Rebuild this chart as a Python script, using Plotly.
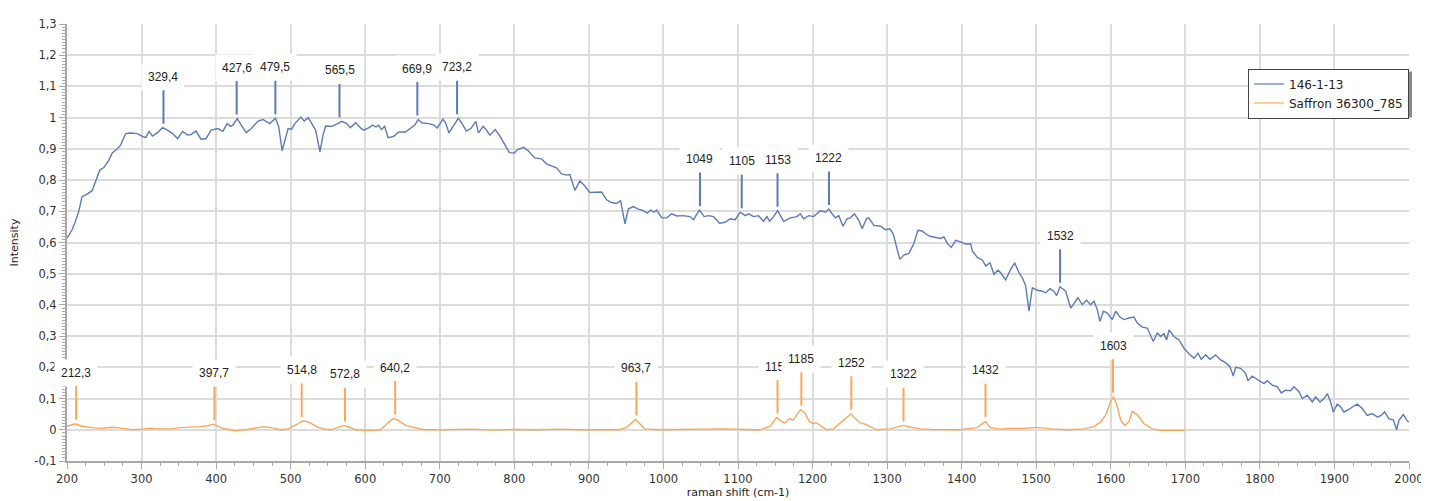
import numpy as np
import plotly.graph_objects as go

# ---------------- data ----------------
blue_name = "146-1-13"
blue_x = [200, 206.7, 211.2, 215.7, 220.2, 227.0, 233.7, 238.2, 244.0, 249.4, 256.2, 260.7, 266.5, 271.9,
          278.7, 285.4, 294.4, 301.1, 305.6, 310.1, 314.6, 321.3, 328.1, 334.8, 341.6, 348.3, 355.1, 361.8,
          366.3, 373.0, 379.8, 386.5, 393.3, 402.2, 409.0, 414.8, 419.3, 422.5, 428.3, 433.7, 440.4, 447.2,
          456.2, 462.9, 467.4, 471.9, 479.6, 484.0, 488.5, 493.0, 496.6, 501.1, 505.6, 513.7, 518.2, 523.6,
          529.0, 533.5, 539.3, 543.8, 547.0, 555.1, 561.8, 568.5, 575.3, 579.8, 587.4, 593.3, 597.8, 604.5,
          609.9, 614.4, 618.0, 621.6, 626.1, 630.6, 638.2, 644.9, 653.9, 660.7, 666.5, 671.0, 676.4, 685.4,
          692.1, 696.6, 704.3, 707.9, 712.4, 717.8, 724.9, 730.3, 735.7, 741.6, 748.3, 751.9, 758.2, 762.7,
          767.2, 774.4, 779.8, 786.5, 793.3, 800.0, 804.5,
          812.6, 818.5, 827.4, 836.4, 843.1, 849.8, 856.5, 863.3, 870.0, 874.5, 881.2, 887.9, 894.6, 901.3,
          908.1, 917.0, 923.7, 930.5, 937.2, 942.6, 948.4, 952.9, 959.6, 966.3, 973.0, 978.4, 982.9, 987.4,
          990.9, 997.7, 1004.4, 1011.1, 1017.8, 1026.8, 1035.8, 1040.2, 1048.3, 1054.6, 1060.4, 1067.1,
          1075.2, 1082.8, 1089.5, 1096.2, 1103.0, 1109.7, 1114.2, 1120.9, 1127.6, 1134.3, 1138.8, 1142.4,
          1147.8, 1153.1, 1161.2, 1170.2, 1179.1, 1183.6, 1188.1, 1194.8, 1201.5, 1206.0, 1210.5, 1217.2,
          1221.7, 1226.2, 1230.6, 1235.1, 1240.9, 1246.3, 1250.8, 1256.2, 1262.0, 1266.5, 1272.3, 1275.4,
          1282.2, 1291.1, 1297.8, 1303.7, 1308.2, 1312.6, 1317.1, 1322.5, 1329.2, 1335.9, 1341.3, 1347.1,
          1351.6, 1357.4, 1365.0, 1371.8, 1376.2, 1380.7, 1386.1, 1391.9, 1398.7, 1405.4, 1412.1,
          1414.3, 1421.0, 1427.7, 1432.2, 1438.0, 1443.4, 1448.7, 1452.3, 1459.0, 1465.7, 1471.1, 1476.9,
          1481.4, 1485.8, 1490.3, 1494.8, 1501.5, 1508.2, 1512.7, 1518.5, 1523.8, 1527.4, 1531.9, 1539.5,
          1546.2, 1550.6, 1556.0, 1561.8, 1567.6, 1573.0, 1577.5, 1581.9, 1585.5, 1590.0, 1595.4, 1602.1,
          1606.5, 1612.3, 1617.7, 1624.4, 1631.1, 1635.6, 1642.3, 1649.0, 1657.0, 1662.4, 1666.9, 1671.3,
          1674.9, 1678.1, 1684.8, 1691.5, 1698.2, 1706.2, 1711.6, 1716.9, 1721.4, 1727.2, 1733.0, 1740.6,
          1747.3, 1754.0, 1759.9, 1764.3, 1767.5, 1774.2, 1780.9, 1784.0, 1789.8, 1796.5, 1801.0, 1805.5,
          1809.9, 1816.6, 1823.3, 1828.7, 1834.5, 1841.2, 1845.7, 1852.4, 1856.9, 1863.6, 1870.3, 1874.8,
          1880.6, 1886.0, 1890.4, 1894.9, 1898.4, 1903.8, 1908.3, 1912.7, 1919.5, 1923.9, 1930.6, 1937.3,
          1944.0, 1950.8, 1957.5, 1962.8, 1967.3, 1973.1, 1978.9, 1983.4, 1986.5, 1992.3, 1997.7, 2000.0]
blue_y = [0.614, 0.640, 0.667, 0.699, 0.747, 0.755, 0.766, 0.795, 0.832, 0.840, 0.864, 0.887, 0.898, 0.912,
          0.949, 0.951, 0.949, 0.940, 0.936, 0.956, 0.941, 0.952, 0.968, 0.960, 0.949, 0.933, 0.956, 0.944,
          0.946, 0.957, 0.931, 0.933, 0.960, 0.965, 0.956, 0.981, 0.972, 0.976, 0.997, 0.976, 0.952, 0.965,
          0.989, 0.994, 0.988, 0.981, 0.998, 0.970, 0.894, 0.938, 0.965, 0.963, 0.981, 1.002, 0.989, 1.000,
          0.976, 0.960, 0.890, 0.949, 0.973, 0.972, 0.979, 0.988, 0.981, 0.968, 0.984, 0.968, 0.960, 0.967,
          0.976, 0.970, 0.976, 0.962, 0.972, 0.936, 0.940, 0.954, 0.954, 0.965, 0.976, 0.994, 0.983, 0.981,
          0.976, 0.967, 0.995, 0.983, 0.951, 0.972, 0.998, 0.979, 0.957, 0.965, 0.988, 0.951, 0.972, 0.960,
          0.944, 0.962, 0.944, 0.917, 0.888, 0.887, 0.898,
          0.905, 0.894, 0.871, 0.868, 0.852, 0.846, 0.839, 0.820, 0.816, 0.818, 0.767, 0.797, 0.781, 0.760,
          0.760, 0.762, 0.737, 0.728, 0.725, 0.734, 0.660, 0.707, 0.715, 0.707, 0.702, 0.694, 0.704, 0.697,
          0.704, 0.679, 0.679, 0.692, 0.685, 0.686, 0.683, 0.673, 0.704, 0.683, 0.686, 0.683,
          0.662, 0.665, 0.676, 0.673, 0.697, 0.686, 0.692, 0.683, 0.686, 0.668, 0.683, 0.668,
          0.683, 0.702, 0.668, 0.679, 0.683, 0.692, 0.676, 0.686, 0.683, 0.692, 0.702, 0.697,
          0.707, 0.692, 0.679, 0.686, 0.652, 0.676, 0.679, 0.692, 0.671, 0.644, 0.676, 0.679,
          0.655, 0.652, 0.641, 0.644, 0.628, 0.586, 0.546, 0.560, 0.565, 0.597, 0.639, 0.637,
          0.628, 0.620, 0.616, 0.613, 0.618, 0.597, 0.584, 0.607, 0.602, 0.595, 0.595,
          0.573, 0.552, 0.544, 0.525, 0.535, 0.498, 0.512, 0.503, 0.480, 0.514, 0.535, 0.503,
          0.487, 0.462, 0.380, 0.455, 0.447, 0.444, 0.439, 0.452, 0.444, 0.430, 0.458, 0.444,
          0.390, 0.404, 0.423, 0.401, 0.415, 0.401, 0.412, 0.385, 0.347, 0.380, 0.374, 0.353,
          0.380, 0.361, 0.353, 0.358, 0.361, 0.342, 0.329, 0.326, 0.283, 0.310, 0.299, 0.308,
          0.288, 0.320, 0.299, 0.288, 0.261, 0.240, 0.229, 0.245, 0.226, 0.240, 0.226, 0.240,
          0.224, 0.215, 0.202, 0.172, 0.200, 0.197, 0.181, 0.157, 0.172, 0.161, 0.154, 0.148,
          0.157, 0.143, 0.138, 0.118, 0.127, 0.125, 0.138, 0.122, 0.100, 0.111, 0.089, 0.105,
          0.089, 0.100, 0.116, 0.089, 0.057, 0.082, 0.073, 0.057, 0.065, 0.073, 0.082, 0.068,
          0.046, 0.052, 0.041, 0.046, 0.057, 0.035, 0.032, 0.000, 0.030, 0.049, 0.028, 0.025]

orange_name = "Saffron 36300_785"
orange_x = [200, 205, 211.2, 218, 227, 236, 245, 254, 260.6, 270, 280, 287.6, 300, 312, 325, 340, 352.7,
            365, 378, 388.6, 396.7, 402, 410, 418, 424.5, 435, 445, 455, 465, 475, 487.4, 497, 505, 510,
            515.6, 522.3, 529, 535.7, 544.6, 553.6, 562.5, 571.4, 578.1, 587.1, 602.7, 620.5, 629.5, 634,
            638.4, 645.1, 654, 665.2, 678.6, 700.9, 720, 745, 770, 800, 830, 860, 890, 920, 940, 950.2,
            956.9, 962.7, 968.1, 974.8, 995, 1020, 1039.8, 1060, 1084.6, 1110, 1129.4, 1142.8, 1151.8,
            1158.5, 1163, 1168.8, 1174.2, 1179.6, 1184, 1189.9, 1195.7, 1201.1, 1205.6, 1212.3, 1219,
            1228, 1239.2, 1245.9, 1251.3, 1257.1, 1263.8, 1270.5, 1277.2, 1286.2, 1304.1, 1313.1, 1322,
            1331, 1344.4, 1360, 1375.8, 1398.2, 1420.6, 1427.3, 1431.8, 1438.5, 1452, 1465, 1478.9,
            1497.8, 1505.7, 1520, 1542.2, 1564.4, 1577.8, 1586.7, 1593.3, 1600, 1603.6, 1608, 1613.3,
            1618.7, 1624.4, 1628.9, 1635.6, 1644.4, 1655.6, 1666.7, 1684.4, 1700]
orange_y = [0.011, 0.014, 0.019, 0.013, 0.009, 0.006, 0.004, 0.007, 0.008, 0.006, 0.003, 0.000, 0.002,
            0.005, 0.003, 0.003, 0.007, 0.008, 0.010, 0.013, 0.018, 0.012, 0.004, 0.000, -0.003, -0.001,
            0.002, 0.006, 0.010, 0.006, 0.000, 0.003, 0.012, 0.020, 0.028, 0.026, 0.018, 0.009, 0.003,
            0.000, 0.007, 0.014, 0.009, 0.000, -0.002, 0.000, 0.020, 0.030, 0.036, 0.029, 0.014, 0.007,
            0.000, 0.000, 0.001, 0.002, -0.001, 0.001, 0.000, 0.002, 0.000, 0.001, 0.000, 0.007, 0.020,
            0.033, 0.020, 0.003, 0.000, 0.001, 0.000, 0.002, 0.003, 0.001, 0.000, 0.011, 0.039, 0.026,
            0.022, 0.036, 0.031, 0.051, 0.064, 0.053, 0.026, 0.020, 0.022, 0.011, 0.000, 0.003, 0.026,
            0.040, 0.051, 0.037, 0.022, 0.018, 0.011, 0.000, 0.003, 0.009, 0.014, 0.009, 0.003, 0.001,
            0.000, 0.000, 0.007, 0.020, 0.027, 0.007, 0.002, 0.004, 0.004, 0.007, 0.007, 0.003, 0.000,
            0.003, 0.011, 0.026, 0.048, 0.092, 0.106, 0.081, 0.031, 0.014, 0.026, 0.059, 0.048, 0.020,
            0.003, -0.002, -0.002, -0.002]

blue_peaks = [329.4, 427.6, 479.5, 565.5, 669.9, 723.2, 1049, 1105, 1153, 1222, 1532]
orange_peaks = [212.3, 397.7, 514.8, 572.8, 640.2, 963.7, 1153, 1185, 1252, 1322, 1432, 1603]

x_ticks = list(range(200, 2001, 100))
y_ticks = [-0.1, 0, 0.1, 0.2, 0.3, 0.4, 0.5, 0.6, 0.7, 0.8, 0.9, 1.0, 1.1, 1.2, 1.3]

# ---------------- style ----------------
BLUE = "#5b7bb8"
ORANGE = "#f8a85c"
BLUE_LEG = "#9fb2d6"
ORANGE_LEG = "#fcd0a2"
GRID = "#dcdcdc"
AXIS = "#a8a8a8"
TICKFONT = dict(family="DejaVu Sans", size=11.5, color="#333333")

# figure is drawn inside the page's default 8px body margin
FIG_W, FIG_H = 1421, 493
M_L, M_R, M_T, M_B = 59, 20, 16, 40


def fmt(v):
    s = f"{v:g}"
    return s.replace(".", ",")


fig = go.Figure()
fig.add_trace(go.Scatter(x=blue_x, y=blue_y, mode="lines", line=dict(color=BLUE, width=1.4),
                         name=blue_name, showlegend=False))
fig.add_trace(go.Scatter(x=orange_x, y=orange_y, mode="lines", line=dict(color=ORANGE, width=1.4),
                         name=orange_name, showlegend=False))
# legend entries
fig.add_trace(go.Scatter(x=[None], y=[None], mode="lines", line=dict(color=BLUE_LEG, width=2),
                         name=blue_name))
fig.add_trace(go.Scatter(x=[None], y=[None], mode="lines", line=dict(color=ORANGE_LEG, width=2),
                         name=orange_name))


def peak_height(xs, ys, p):
    xs = np.asarray(xs)
    ys = np.asarray(ys)
    m = np.abs(xs - p) <= 5
    if m.any():
        return float(ys[m].max())
    return float(np.interp(p, xs, ys))


annotations = []
for xs, ys, peaks, col in [(blue_x, blue_y, blue_peaks, BLUE), (orange_x, orange_y, orange_peaks, ORANGE)]:
    for p in peaks:
        annotations.append(dict(
            x=p, y=peak_height(xs, ys, p), xref="x", yref="y",
            text=fmt(p), showarrow=True, arrowhead=0, arrowwidth=2, arrowcolor=col,
            ax=0, ay=-51, standoff=4, bgcolor="white", borderpad=6,
            font=dict(family="Liberation Sans", size=12, color="#222222"),
        ))

# legend drop shadow (layout decoration)
PLOT_W = FIG_W - M_L - M_R
PLOT_H = FIG_H - M_T - M_B
LEG_TOP = 0.898
shapes = [dict(type="rect", xref="paper", yref="paper", layer="above",
               x0=1 - 158 / PLOT_W + 3 / PLOT_W, x1=1 + 3 / PLOT_W,
               y0=LEG_TOP - 46 / PLOT_H - 3 / PLOT_H, y1=LEG_TOP - 3 / PLOT_H,
               fillcolor="#8a8a8a", line=dict(width=0))]

fig.update_layout(
    width=FIG_W, height=FIG_H,
    margin=dict(l=M_L, r=M_R, t=M_T, b=M_B),
    paper_bgcolor="white", plot_bgcolor="white",
    annotations=annotations,
    shapes=shapes,
    legend=dict(x=1.0, xanchor="right", y=LEG_TOP, yanchor="top",
                bgcolor="white", bordercolor="#444444", borderwidth=1,
                font=dict(family="DejaVu Sans", size=12, color="#222222"),
                itemwidth=30, tracegroupgap=0),
    xaxis=dict(range=[200, 2000], tickmode="array", tickvals=x_ticks, ticktext=[fmt(v) for v in x_ticks],
               showgrid=True, gridcolor=GRID, gridwidth=2, zeroline=False, automargin=False,
               showline=True, linecolor=AXIS, linewidth=2,
               ticks="outside", ticklen=6, tickcolor=AXIS, tickwidth=1, tickfont=TICKFONT,
               minor=dict(dtick=25, tick0=200, ticks="outside", ticklen=3, tickcolor=AXIS, showgrid=False),
               title=dict(text="raman shift (cm-1)", font=dict(family="DejaVu Sans", size=11, color="#222222"),
                          standoff=4)),
    yaxis=dict(range=[-0.1, 1.3], tickmode="array", tickvals=y_ticks, ticktext=[fmt(v) for v in y_ticks],
               showgrid=True, gridcolor=GRID, gridwidth=2, zeroline=False, automargin=False,
               showline=True, linecolor=AXIS, linewidth=2,
               ticks="outside", ticklen=6, tickcolor=AXIS, tickwidth=1, tickfont=TICKFONT,
               minor=dict(dtick=0.01, tick0=0, ticks="outside", ticklen=3, tickcolor=AXIS, showgrid=False),
               title=dict(text="Intensity", font=dict(family="DejaVu Sans", size=11, color="#222222"),
                          standoff=13)),
)

fig.write_html("out.html")
